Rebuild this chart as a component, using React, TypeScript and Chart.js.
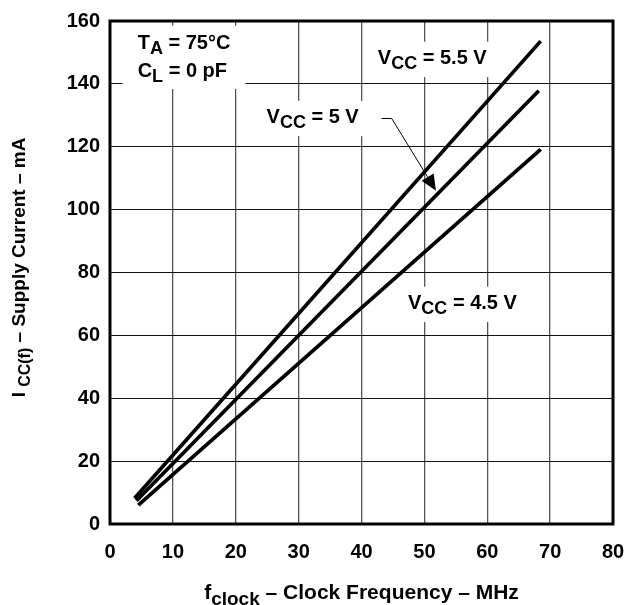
import React, { useEffect, useRef } from 'react';
import { Chart, registerables } from 'chart.js';

Chart.register(...registerables);

// ---- data ----
const xTickValues = [0, 10, 20, 30, 40, 50, 60, 70, 80];
const yTickValues = [0, 20, 40, 60, 80, 100, 120, 140, 160];

const freqVcc55 = [3.9, 68.5];
const iccVcc55 = [8.2, 153.6];
const freqVcc5 = [4.2, 68.2];
const iccVcc5 = [7.4, 137.8];
const freqVcc45 = [4.5, 68.5];
const iccVcc45 = [6.0, 119.2];

type Part = { t: string; sub?: boolean };

const xTitle: Part[] = [{ t: 'f' }, { t: 'clock', sub: true }, { t: ' \u2013 Clock Frequency \u2013 MHz' }];
const yTitle: Part[] = [{ t: 'I ' }, { t: 'CC(f)', sub: true }, { t: ' \u2013 Supply Current \u2013 mA' }];

const conditionLines: Part[][] = [
  [{ t: 'T' }, { t: 'A', sub: true }, { t: ' = 75\u00B0C' }],
  [{ t: 'C' }, { t: 'L', sub: true }, { t: ' = 0 pF' }],
];

const seriesLabels: { parts: Part[]; x: number; y: number }[] = [
  { parts: [{ t: 'V' }, { t: 'CC', sub: true }, { t: ' = 5.5 V' }], x: 42.6, y: 146.3 },
  { parts: [{ t: 'V' }, { t: 'CC', sub: true }, { t: ' = 5 V' }], x: 24.9, y: 127.5 },
  { parts: [{ t: 'V' }, { t: 'CC', sub: true }, { t: ' = 4.5 V' }], x: 47.4, y: 68.4 },
];

// arrow from "VCC = 5 V" label to its line (data coords)
const arrowPath = [
  [43.2, 129.0],
  [44.8, 129.0],
  [51.85, 106.0],
];

const FONT = '"Liberation Sans", Arial, Helvetica, sans-serif';
type Fonts = { main: string; sub: string; shift: number };
const LABEL: Fonts = { main: `bold 20px ${FONT}`, sub: `bold 18px ${FONT}`, shift: 5 };
const XT: Fonts = { main: `bold 21px ${FONT}`, sub: `bold 19px ${FONT}`, shift: 6 };
const YT: Fonts = { main: `bold 19px ${FONT}`, sub: `bold 16px ${FONT}`, shift: 5 };

function measureParts(ctx: CanvasRenderingContext2D, parts: Part[], f: Fonts) {
  let w = 0;
  for (const p of parts) {
    ctx.font = p.sub ? f.sub : f.main;
    w += ctx.measureText(p.t).width;
  }
  return w;
}

function drawParts(ctx: CanvasRenderingContext2D, parts: Part[], x: number, y: number, f: Fonts) {
  let cx = x;
  ctx.textBaseline = 'alphabetic';
  ctx.textAlign = 'left';
  ctx.fillStyle = '#000';
  for (const p of parts) {
    ctx.font = p.sub ? f.sub : f.main;
    ctx.fillText(p.t, cx, p.sub ? y + f.shift : y);
    cx += ctx.measureText(p.t).width;
  }
  return cx;
}

const annotationPlugin = {
  id: 'annotations',
  beforeDatasetsDraw(chart: any) {
    const ctx: CanvasRenderingContext2D = chart.ctx;
    const xs = chart.scales.x;
    const ys = chart.scales.y;
    ctx.save();
    // condition block
    const cx = xs.getPixelForValue(4.4);
    const cy1 = ys.getPixelForValue(151.1);
    const cy2 = ys.getPixelForValue(142.2);
    const w1 = Math.max(measureParts(ctx, conditionLines[0], LABEL), measureParts(ctx, conditionLines[1], LABEL));
    ctx.fillStyle = '#fff';
    ctx.fillRect(cx - 15, cy1 - 14.3 - 9, w1 + 30, cy2 - cy1 + 14.3 + 9 + 12);
    drawParts(ctx, conditionLines[0], cx, cy1, LABEL);
    drawParts(ctx, conditionLines[1], cx, cy2, LABEL);
    // series labels
    for (const l of seriesLabels) {
      const px = xs.getPixelForValue(l.x);
      const py = ys.getPixelForValue(l.y);
      const w = measureParts(ctx, l.parts, LABEL);
      ctx.fillStyle = '#fff';
      ctx.fillRect(px - 8, py - 14.3 - 8, w + 16, 14.3 + 8 + 13);
      drawParts(ctx, l.parts, px, py, LABEL);
    }
    ctx.restore();
  },
  afterDatasetsDraw(chart: any) {
    const ctx: CanvasRenderingContext2D = chart.ctx;
    const xs = chart.scales.x;
    const ys = chart.scales.y;
    const a = chart.chartArea;
    ctx.save();
    // arrow
    const pts = arrowPath.map(([x, y]) => [xs.getPixelForValue(x), ys.getPixelForValue(y)]);
    const tip = pts[pts.length - 1];
    const prev = pts[pts.length - 2];
    const ang = Math.atan2(tip[1] - prev[1], tip[0] - prev[0]);
    const headLen = 16;
    const headW = 7;
    const bx = tip[0] - headLen * Math.cos(ang);
    const by = tip[1] - headLen * Math.sin(ang);
    ctx.strokeStyle = '#000';
    ctx.lineWidth = 1;
    ctx.beginPath();
    ctx.moveTo(pts[0][0], pts[0][1]);
    for (let i = 1; i < pts.length - 1; i++) ctx.lineTo(pts[i][0], pts[i][1]);
    ctx.lineTo(bx, by);
    ctx.stroke();
    ctx.fillStyle = '#000';
    ctx.beginPath();
    ctx.moveTo(tip[0], tip[1]);
    ctx.lineTo(bx + headW * Math.sin(ang), by - headW * Math.cos(ang));
    ctx.lineTo(bx - headW * Math.sin(ang), by + headW * Math.cos(ang));
    ctx.closePath();
    ctx.fill();
    // frame
    ctx.lineWidth = 3;
    ctx.strokeStyle = '#000';
    ctx.strokeRect(a.left, a.top, a.right - a.left, a.bottom - a.top);
    ctx.restore();
  },
  afterDraw(chart: any) {
    const ctx: CanvasRenderingContext2D = chart.ctx;
    const a = chart.chartArea;
    ctx.save();
    // x title
    const wx = measureParts(ctx, xTitle, XT);
    drawParts(ctx, xTitle, (a.left + a.right) / 2 - wx / 2, 599, XT);
    // y title
    const wy = measureParts(ctx, yTitle, YT);
    ctx.translate(25, (a.top + a.bottom) / 2 - 5);
    ctx.rotate(-Math.PI / 2);
    drawParts(ctx, yTitle, -wy / 2, 0, YT);
    ctx.restore();
  },
};

export default function App() {
  const ref = useRef<HTMLCanvasElement | null>(null);
  useEffect(() => {
    document.body.style.margin = '0';
    const canvas = ref.current!;
    const mk = (xs: number[], ys: number[]) => xs.map((x, i) => ({ x, y: ys[i] }));
    const ds = (label: string, data: any[]) => ({
      label,
      data,
      borderColor: '#000',
      borderWidth: 3.7,
      borderCapStyle: 'butt' as const,
      pointRadius: 0,
      fill: false,
      tension: 0,
    });
    const chart = new Chart(canvas, {
      type: 'line',
      data: {
        datasets: [
          ds('VCC = 5.5 V', mk(freqVcc55, iccVcc55)),
          ds('VCC = 5 V', mk(freqVcc5, iccVcc5)),
          ds('VCC = 4.5 V', mk(freqVcc45, iccVcc45)),
        ],
      },
      options: {
        animation: false,
        responsive: false,
        devicePixelRatio: 1,
        layout: { padding: { left: 0, right: 15, top: 21, bottom: 0 } },
        plugins: { legend: { display: false }, tooltip: { enabled: false } },
        scales: {
          x: {
            type: 'linear',
            min: 0,
            max: 80,
            afterBuildTicks: (s: any) => {
              s.ticks = xTickValues.map((v) => ({ value: v }));
            },
            afterFit: (s: any) => {
              s.height = 81;
              s.paddingLeft = 0;
              s.paddingRight = 0;
            },
            grid: {
              drawTicks: false,
              color: '#555',
              lineWidth: 1.3,
            },
            border: { display: false },
            ticks: {
              padding: 16,
              color: '#000',
              font: { family: FONT, size: 20, weight: 'bold' },
              maxRotation: 0,
              autoSkip: false,
            },
          },
          y: {
            type: 'linear',
            min: 0,
            max: 160,
            afterBuildTicks: (s: any) => {
              s.ticks = yTickValues.map((v) => ({ value: v }));
            },
            afterFit: (s: any) => {
              s.width = 110;
              s.paddingTop = 0;
              s.paddingBottom = 0;
            },
            grid: {
              drawTicks: false,
              color: '#111',
              lineWidth: 1,
            },
            border: { display: false },
            ticks: {
              padding: 10,
              color: '#000',
              font: { family: FONT, size: 20, weight: 'bold' },
              autoSkip: false,
            },
          },
        },
      },
      plugins: [annotationPlugin],
    });
    return () => chart.destroy();
  }, []);
  return (
    <div style={{ width: 628, height: 605, background: '#fff' }}>
      <canvas ref={ref} width={628} height={605} style={{ display: 'block' }} />
    </div>
  );
}
